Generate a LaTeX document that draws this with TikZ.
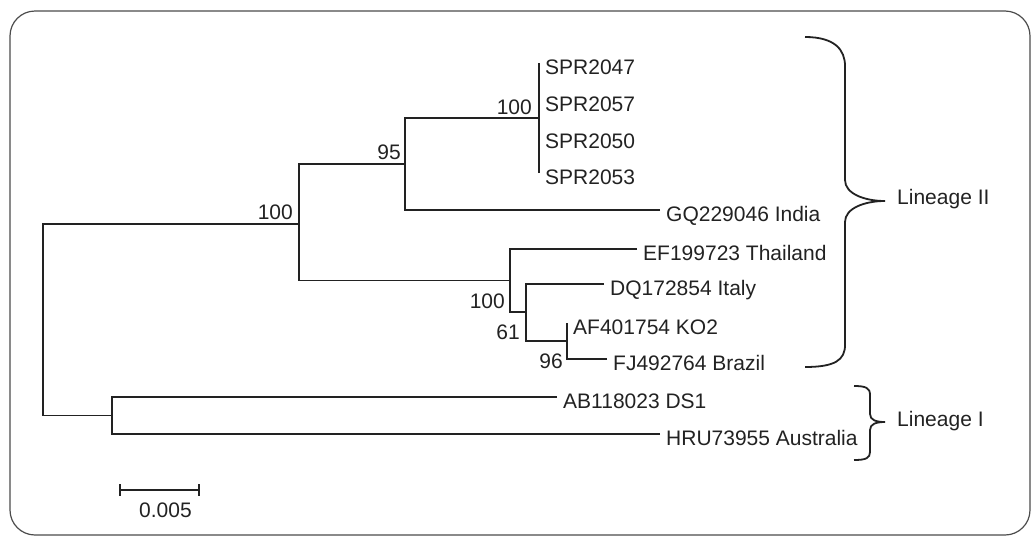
\documentclass[tikz,border=0pt]{standalone}
\usepackage{fontspec}
\setmainfont{Liberation Sans}
\usepackage{tikz}
\usetikzlibrary{positioning}
\definecolor{treegray}{HTML}{222222}

\begin{document}
\begin{tikzpicture}[
    x=1pt, y=-1pt,
    branch/.style={draw=treegray, line width=1.8pt},
    taxon/.style={anchor=base west, inner sep=0pt, xshift=6pt, yshift=-11pt, text=treegray, font=\fontsize{21}{25}\selectfont},
    boot/.style={anchor=base east, inner sep=0pt, text=treegray, font=\fontsize{21}{25}\selectfont},
    clade/.style={anchor=base west, inner sep=0pt, text=treegray, font=\fontsize{21}{25}\selectfont},
    brace/.style={draw=treegray, line width=1.8pt},
    frame/.style={draw=black!70, line width=1.2pt, rounded corners=25pt}
]
    \useasboundingbox (0,0) rectangle (1032,536);
    \draw [frame] (10,11) rectangle (1030,535);

    % internal nodes
    \coordinate (root) at (43,319.5);
    \coordinate (linII) at (299,224);
    \coordinate (n95) at (405,164);
    \coordinate (nspr) at (539,118);
    \coordinate (n100) at (510,280.5);
    \coordinate (n61) at (526,312);
    \coordinate (n96) at (567,341);
    \coordinate (linI) at (112,415.5);

    % tips
    \coordinate (spr47) at (539,63);
    \coordinate (spr57) at (539,100);
    \coordinate (spr50) at (539,137);
    \coordinate (spr53) at (539,173);
    \coordinate (india) at (660,210);
    \coordinate (thai) at (637,249);
    \coordinate (italy) at (604,284);
    \coordinate (ko2) at (567,323);
    \coordinate (brazil) at (607,359);
    \coordinate (ds1) at (557,397);
    \coordinate (aus) at (660,434);

    \node (l47) [taxon] at (spr47) {SPR2047};
    \node (l57) [taxon] at (spr57) {SPR2057};
    \node (l50) [taxon] at (spr50) {SPR2050};
    \node (l53) [taxon] at (spr53) {SPR2053};
    \node (lindia) [taxon] at (india) {GQ229046 India};
    \node (lthai) [taxon] at (thai) {EF199723 Thailand};
    \node (litaly) [taxon] at (italy) {DQ172854 Italy};
    \node (lko2) [taxon] at (ko2) {AF401754 KO2};
    \node (lbrazil) [taxon] at (brazil) {FJ492764 Brazil};
    \node (lds1) [taxon] at (ds1) {AB118023 DS1};
    \node (laus) [taxon] at (aus) {HRU73955 Australia};

    \node (b1) [boot] at (293,219) {100};
    \node (b2) [boot] at (401,159) {95};
    \node (b3) [boot] at (532,114) {100};
    \node (b4) [boot] at (505,308) {100};
    \node (b5) [boot] at (520,339) {61};
    \node (b6) [boot] at (563,368) {96};

    \draw [branch] (linII) -| (root);
    \draw [branch] (linI) -| (root);
    \draw [branch] (n95) -| (linII);
    \draw [branch] (n100) -| (linII);
    \draw [branch] (nspr) -| (n95);
    \draw [branch] (india) -| (n95);
    \draw [branch] (spr47) -- (nspr);
    \draw [branch] (spr53) -- (nspr);
    \draw [branch] (thai) -| (n100);
    \draw [branch] (n61) -| (n100);
    \draw [branch] (italy) -| (n61);
    \draw [branch] (n96) -| (n61);
    \draw [branch] (ko2) -| (n96);
    \draw [branch] (brazil) -| (n96);
    \draw [branch] (ds1) -| (linI);
    \draw [branch] (aus) -| (linI);

    % braces
    \draw [brace] (805,37) .. controls (835,37) and (845,50) .. (845,66) -- (845,180)
        .. controls (845,194) and (865,201) .. (885,201)
        .. controls (865,201) and (845,208) .. (845,222) -- (845,345)
        .. controls (845,360) and (835,367) .. (805,367);
    \draw [brace] (854,386) .. controls (866,386) and (870,388) .. (870,395) -- (870,414)
        .. controls (870,420) and (876,422) .. (885,422)
        .. controls (876,422) and (870,424) .. (870,430) -- (870,452)
        .. controls (870,458) and (866,460) .. (854,460);
    \node (cII) [clade] at (897,204) {Lineage II};
    \node (cI) [clade] at (897,426) {Lineage I};

    % scale bar
    \coordinate (sbl) at (120,490);
    \coordinate (sbr) at (199,490);
    \draw [branch] (sbl) -- (sbr);
    \draw [branch] ([yshift=6pt]sbl) -- ([yshift=-6pt]sbl);
    \draw [branch] ([yshift=6pt]sbr) -- ([yshift=-6pt]sbr);
    \node (sblabel) [boot, anchor=base] at (165.5,517) {0.005};
\end{tikzpicture}
\end{document}
